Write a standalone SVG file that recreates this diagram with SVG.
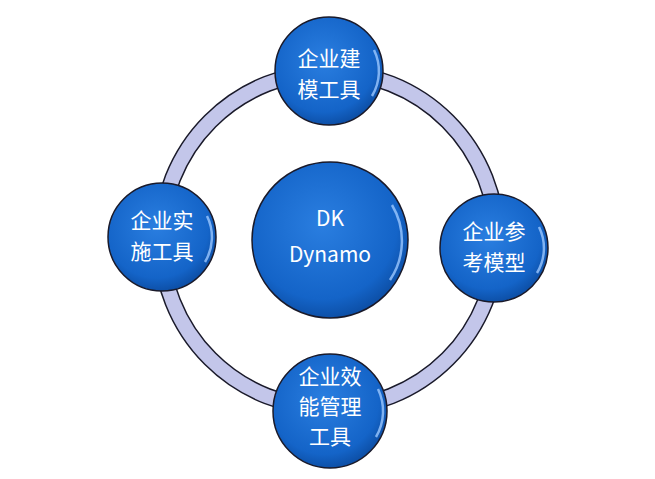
<svg xmlns="http://www.w3.org/2000/svg" width="655" height="479" viewBox="0 0 655 479">
<defs>
<radialGradient id="g" cx="0.45" cy="0.4" r="0.6">
<stop offset="0" stop-color="#2a7ee0"/><stop offset="0.8" stop-color="#1464c8"/><stop offset="1" stop-color="#0d50a8"/>
</radialGradient>
<style>
.n{fill:url(#g);stroke:#1a1a2a;stroke-width:1.5}
.h{fill:none;stroke:#9cc8ff;stroke-width:2.5;opacity:0.8}
.t{fill:#fff;font-family:"Noto Sans CJK SC","Noto Sans",sans-serif;font-size:21px;text-anchor:middle}
</style>
</defs>
<rect width="655" height="479" fill="#fff"/>
<g id="connectors">
<circle cx="329" cy="240" r="168" fill="none" stroke="#1a1a2a" stroke-width="17"/>
<circle cx="329" cy="240" r="168" fill="none" stroke="#c3c6ea" stroke-width="14"/>
</g>
<g id="center"><circle class="n" cx="330" cy="240" r="78"/><path class="h" d="M392,205 A70,70 0 0 1 390,280"/>
<text class="t" x="330" y="226" font-size="24">DK</text><text class="t" x="330" y="262" font-size="24">Dynamo</text></g>
<g id="top"><circle class="n" cx="329" cy="71" r="54"/><path class="h" d="M374,50 A48,48 0 0 1 372,96"/>
<text class="t" x="329" y="66">企业建</text><text class="t" x="329" y="97">模工具</text></g>
<g id="left"><circle class="n" cx="162" cy="237" r="54"/><path class="h" d="M207,216 A48,48 0 0 1 205,262"/>
<text class="t" x="162" y="228">企业实</text><text class="t" x="162" y="259">施工具</text></g>
<g id="right"><circle class="n" cx="494" cy="248" r="54"/><path class="h" d="M539,227 A48,48 0 0 1 537,273"/>
<text class="t" x="494" y="239">企业参</text><text class="t" x="494" y="270">考模型</text></g>
<g id="bottom"><circle class="n" cx="330" cy="411" r="57"/><path class="h" d="M378,389 A51,51 0 0 1 376,437"/>
<text class="t" x="330" y="384">企业效</text><text class="t" x="330" y="414">能管理</text><text class="t" x="330" y="444">工具</text></g>
</svg>
